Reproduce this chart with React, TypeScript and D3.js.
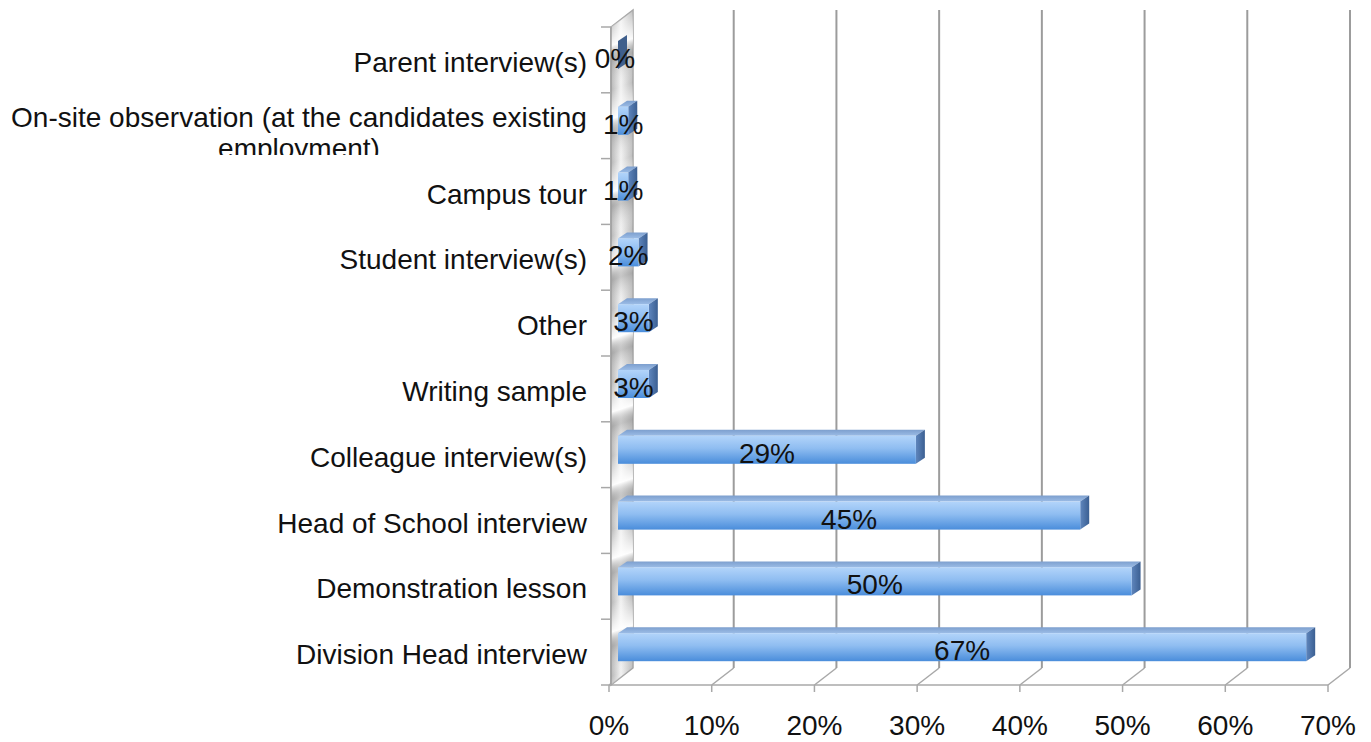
import * as d3 from "d3";

// categories top -> bottom
const categories = [
  "Parent interview(s)",
  "On-site observation (at the candidates existing employment)",
  "Campus tour",
  "Student interview(s)",
  "Other",
  "Writing sample",
  "Colleague interview(s)",
  "Head of School interview",
  "Demonstration lesson",
  "Division Head interview",
];
const values = [0, 0.01, 0.01, 0.02, 0.03, 0.03, 0.29, 0.45, 0.5, 0.67];
const valueLabels = ["0%", "1%", "1%", "2%", "3%", "3%", "29%", "45%", "50%", "67%"];
const ticks = [0, 0.1, 0.2, 0.3, 0.4, 0.5, 0.6, 0.7];

const W = 1371;
const H = 742;
const FONT = "'Liberation Sans', Arial, Helvetica, sans-serif";
const FS = 28;

export default function App() {
  const x = d3.scaleLinear().domain([0, 0.7]).range([609, 1328]);
  const y = d3.scaleBand().domain(categories).range([27, 685]);
  const fmt = d3.format(".0%");

  // 3d offsets
  const wallDx = 22;
  const wallDy = -17;
  const backTop = 10;
  const barOff = 9;
  const barDx = 9;
  const barDy = -6;

  const x0 = x(0);
  const base = 685;
  const wallPts = `${x0 + 2},${27} ${x0 + 2 + wallDx},${backTop} ${x0 + 2 + wallDx},${base + wallDy} ${x0 + 2},${base}`;

  return (
    <svg
      width={W}
      height={H}
      style={{ position: "absolute", left: 0, top: 0, background: "#fff" }}
      fontFamily={FONT}
    >
      <defs>
        <linearGradient id="wallH" x1="0" x2="1" y1="0" y2="0">
          <stop offset="0" stopColor="#b5b5b5" />
          <stop offset="0.45" stopColor="#f2f2f2" />
          <stop offset="1" stopColor="#bbbbbb" />
        </linearGradient>
        <linearGradient
          id="wallStreak"
          gradientUnits="userSpaceOnUse"
          x1="0"
          y1="0"
          x2="22"
          y2="66"
          spreadMethod="repeat"
        >
          <stop offset="0" stopColor="#ffffff" stopOpacity="0" />
          <stop offset="0.4" stopColor="#ffffff" stopOpacity="0.95" />
          <stop offset="0.6" stopColor="#8a8a8a" stopOpacity="0.4" />
          <stop offset="1" stopColor="#ffffff" stopOpacity="0" />
        </linearGradient>
        <linearGradient id="barFront" x1="0" x2="0" y1="0" y2="1">
          <stop offset="0" stopColor="#b2d4fa" />
          <stop offset="0.45" stopColor="#8fbdf1" />
          <stop offset="1" stopColor="#4a8ddb" />
        </linearGradient>
        <linearGradient id="barTop" x1="0" x2="0" y1="0" y2="1">
          <stop offset="0" stopColor="#7d9fce" />
          <stop offset="1" stopColor="#9bbce6" />
        </linearGradient>
        <linearGradient id="barSide" x1="0" x2="1" y1="0" y2="0">
          <stop offset="0" stopColor="#5f86bd" />
          <stop offset="1" stopColor="#3b5f92" />
        </linearGradient>
        <clipPath id="clipOnsite">
          <rect x={0} y={90} width={600} height={65} />
        </clipPath>
      </defs>

      {/* back wall gridlines, floor diagonals, x axis */}
      {ticks.map((t) => (
        <g key={"g" + t}>
          {t > 0 && (
            <line
              x1={x(t) + wallDx}
              x2={x(t) + wallDx}
              y1={base + wallDy}
              y2={backTop}
              stroke="#9c9c9c"
              strokeWidth={2}
            />
          )}
          <line
            x1={x(t)}
            y1={base}
            x2={x(t) + wallDx}
            y2={base + wallDy}
            stroke="#a8a8a8"
            strokeWidth={1.5}
          />
          <line x1={x(t)} x2={x(t)} y1={base} y2={base + 7} stroke="#a8a8a8" strokeWidth={1.5} />
          <text x={x(t)} y={735} textAnchor="middle" fontSize={FS} fill="#111">
            {fmt(t)}
          </text>
        </g>
      ))}
      <line x1={x0} x2={x(0.7)} y1={base} y2={base} stroke="#a8a8a8" strokeWidth={1.5} />

      {/* left wall */}
      <polygon points={wallPts} fill="url(#wallH)" stroke="#a5a5a5" strokeWidth={1.5} />
      <polygon points={wallPts} fill="url(#wallStreak)" />
      <line x1={x0 + 2} x2={x0 + 2} y1={27} y2={base} stroke="#a0a0a0" strokeWidth={1.5} />

      {/* left ticks */}
      {d3.range(categories.length + 1).map((i) => {
        const yy = 27 + i * y.step();
        return <line key={"t" + i} x1={601} x2={x0 + 2} y1={yy} y2={yy} stroke="#a8a8a8" strokeWidth={1.5} />;
      })}

      {/* bars */}
      {categories.map((c, i) => {
        const y0 = y(c) as number;
        const yt = y0 + 14;
        const yb = y0 + 42;
        const bx0 = x(0) + barOff;
        const bx1 = x(values[i]) + barOff;
        return (
          <g key={c}>
            {bx1 > bx0 && (
              <polygon
                points={`${bx0},${yt} ${bx1},${yt} ${bx1 + barDx},${yt + barDy} ${bx0 + barDx},${yt + barDy}`}
                fill="url(#barTop)"
              />
            )}
            <polygon
              points={`${bx1},${yt} ${bx1 + barDx},${yt + barDy} ${bx1 + barDx},${yb + barDy} ${bx1},${yb}`}
              fill={values[i] === 0 ? "#3f5f8c" : "url(#barSide)"}
            />
            {bx1 > bx0 && (
              <rect x={bx0} y={yt} width={bx1 - bx0} height={yb - yt} fill="url(#barFront)" />
            )}
            <text
              x={(bx0 + bx1) / 2 + (values[i] === 0 ? -3 : 0)}
              y={yb - 1}
              textAnchor="middle"
              fontSize={FS}
              fill="#111"
            >
              {valueLabels[i]}
            </text>
          </g>
        );
      })}

      {/* category labels */}
      {categories.map((c, i) => {
        const y0 = y(c) as number;
        if (i === 1) {
          return (
            <g key={"l" + c} clipPath="url(#clipOnsite)">
              <text x={299} y={127} textAnchor="middle" fontSize={FS} fill="#111">
                On-site observation (at the candidates existing
              </text>
              <text x={299} y={158} textAnchor="middle" fontSize={FS} fill="#111">
                employment)
              </text>
            </g>
          );
        }
        return (
          <text key={"l" + c} x={587} y={y0 + 45} textAnchor="end" fontSize={FS} fill="#111">
            {c}
          </text>
        );
      })}
    </svg>
  );
}
